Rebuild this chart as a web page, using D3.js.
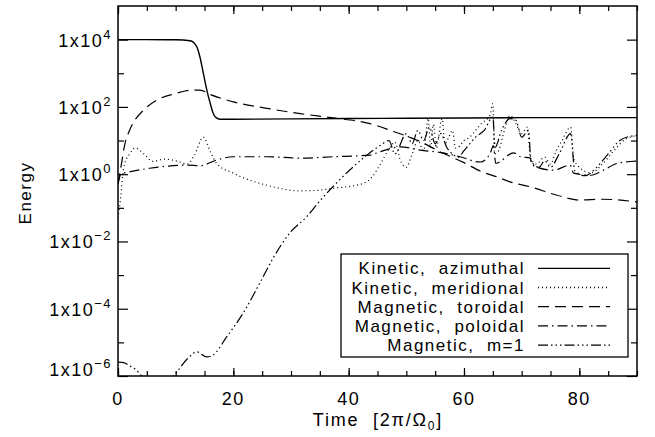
<!DOCTYPE html>
<html>
<head>
<meta charset="utf-8">
<script src="https://cdn.jsdelivr.net/npm/d3@7"></script>
<style>
  body { margin: 0; background: #fff; }
  text { font-family: "Liberation Sans", Arial, sans-serif; fill: #000; }
</style>
</head>
<body>
<svg id="chart" width="655" height="437"></svg>
<script>
// time in units of 2pi/Omega0, energies
var azimuthalT = [0, 5, 10, 12.5, 13.65, 14.2, 14.8, 15.4, 16, 16.5, 17, 17.7, 20, 30, 40, 50, 60, 70, 80, 90];
var azimuthalE = [10000, 10000, 9900, 9300, 6200, 3100, 1000, 316, 126, 65, 48, 43, 43, 44, 45, 46, 47, 48, 48, 48];

var meridionalT = [0, 0.4, 1, 2, 3, 4.5, 6, 8, 10, 12, 13.2, 14.8, 16, 17.1, 20, 25.8, 31.6, 34.5, 37.3, 42, 44, 45.5, 47, 48, 49, 50, 51, 52, 53, 53.8, 54.2, 54.7, 55.2, 56.2, 56.7, 57.3, 58, 58.5, 59, 60, 61, 62, 63, 64.5, 65, 65.3, 66, 67, 68, 69, 70, 71, 71.5, 72.5, 74, 75, 76, 77, 78.5, 79, 80, 82, 84, 86, 88, 90];
var meridionalE = [0.05, 0.16, 1.6, 4, 6, 4, 2.4, 2.8, 2.5, 2, 3.5, 12.6, 4.7, 2.1, 1.07, 0.47, 0.32, 0.33, 0.38, 0.5, 0.8, 2, 5.6, 9, 2.5, 1.6, 4, 10, 5, 45, 6, 30, 6, 45, 8, 12, 20, 6, 6.3, 10, 12.6, 20, 32, 56, 126, 4, 5, 20, 56, 32, 16, 25, 3.2, 2, 3.2, 2, 5, 10, 25, 3.2, 1.6, 1.1, 2, 5, 11, 14];

var toroidalT = [0, 0.5, 1.2, 2, 2.7, 4.4, 6.7, 9.6, 13, 14.2, 16, 20, 25.8, 31.6, 37.3, 43.7, 48, 52, 56, 60, 63, 66, 68, 71.5, 76, 80, 84, 90];
var toroidalE = [0.5, 1.6, 8, 20, 35, 79, 158, 240, 316, 316, 234, 141, 91, 63, 47, 32, 18, 10, 4.5, 2.2, 1.2, 0.8, 0.59, 0.42, 0.24, 0.17, 0.18, 0.15];

var poloidalT = [0, 0.5, 2, 5.5, 12, 14.2, 17, 20, 25.8, 31.6, 37.3, 43.7, 45.5, 49, 52.4, 56.4, 59.3, 62.8, 64.5, 65.1, 65.5, 68.6, 69.8, 71.5, 71.8, 75.5, 78.4, 79, 82, 84.2, 86.6, 90];
var poloidalE = [0.5, 1.0, 1.17, 1.5, 1.86, 1.78, 2.6, 3.3, 3.3, 3.0, 3.3, 3.7, 4.7, 6.5, 5.2, 4.3, 3.3, 2.3, 4.0, 7.1, 2.1, 4.3, 3.3, 3.0, 1.86, 1.32, 1.86, 1.07, 0.93, 1.32, 2.1, 2.45];

var m1T = [0, 1, 2, 3, 4.1, 7, 9.6, 12, 13.7, 15.4, 16.3, 18.9, 21.7, 24.6, 26.9, 29.8, 32.7, 35, 37.3, 40.8, 43, 45.5, 47, 48, 50, 51, 52, 53, 54, 55, 56, 57, 58, 59, 60, 61, 62, 63.5, 65, 65.4, 66.5, 68, 69, 70, 71.2, 71.6, 73, 74, 75, 76.5, 78.5, 79.2, 81, 83, 85, 87, 88.5, 90];
var m1E = [2.6e-6, 2.5e-6, 2e-6, 1.6e-6, 1e-6, 5e-7, 1e-6, 3.2e-6, 5.2e-6, 3.7e-6, 4e-6, 1.5e-5, 7.4e-5, 5.8e-4, 3.2e-3, 0.018, 0.054, 0.16, 0.43, 1.66, 3.5, 7.2, 10, 4, 16, 8, 20, 10, 25, 8, 16, 6.3, 4, 3.2, 5, 8, 12.6, 20, 50, 6.3, 20, 45, 40, 12.6, 20, 2.5, 1.6, 2.5, 1.6, 4, 16, 1.26, 0.9, 1.6, 4, 10, 13, 14];

var seriesNames = ["Kinetic, azimuthal", "Kinetic, meridional", "Magnetic, toroidal", "Magnetic, poloidal", "Magnetic, m=1"];
var seriesDash = ["none", "1,3", "11,6", "10,4,1.5,4", "10,3,1.5,3,1.5,3,1.5,3"];
var xTicks = [0, 20, 40, 60, 80];
var yExponents = [-6, -4, -2, 0, 2, 4];

var svg = d3.select("#chart");
var pL = 118, pR = 637, pT = 6, pB = 376;

var x = d3.scaleLinear().domain([0, 90]).range([pL, pR]);
var y = d3.scaleLog().domain([1e-6, 1e5]).range([pB, pT]);

svg.append("defs").append("clipPath").attr("id", "clip")
  .append("rect")
  .attr("x", pL).attr("y", pT)
  .attr("width", pR - pL).attr("height", pB - pT);

function zip(t, e) {
  return t.map(function (d, i) { return { t: d, e: e[i] }; });
}
var series = [zip(azimuthalT, azimuthalE), zip(meridionalT, meridionalE), zip(toroidalT, toroidalE),
              zip(poloidalT, poloidalE), zip(m1T, m1E)];

var line = d3.line()
  .x(function (d) { return x(d.t); })
  .y(function (d) { return y(d.e); })
  .curve(d3.curveMonotoneX);

var plot = svg.append("g").attr("clip-path", "url(#clip)");
series.forEach(function (s, i) {
  plot.append("path")
    .datum(s)
    .attr("d", line)
    .attr("fill", "none")
    .attr("stroke", "#000")
    .attr("stroke-width", i === 0 ? 1.4 : 1.2)
    .attr("stroke-dasharray", seriesDash[i]);
});

// axes: ticks on all four sides
var minorX = d3.range(0, 91, 5);
var majorY = yExponents.map(function (p) { return Math.pow(10, p); });
var minorY = [-5, -3, -1, 1, 3].map(function (p) { return Math.pow(10, p); });

function tickAxis(axisFn, scale, vals, len, tr) {
  svg.append("g")
    .attr("transform", tr)
    .call(axisFn(scale).tickValues(vals).tickSizeInner(len).tickSizeOuter(0).tickFormat(""))
    .call(function (g) {
      g.select(".domain").remove();
      g.selectAll("line").attr("stroke", "#000").attr("stroke-width", 1.2);
    });
}
// bottom / top (ticks pointing inward)
tickAxis(d3.axisTop, x, minorX, 5, "translate(0," + pB + ")");
tickAxis(d3.axisTop, x, xTicks, 8, "translate(0," + pB + ")");
tickAxis(d3.axisBottom, x, minorX, 5, "translate(0," + pT + ")");
tickAxis(d3.axisBottom, x, xTicks, 8, "translate(0," + pT + ")");
// left / right
tickAxis(d3.axisRight, y, minorY, 6, "translate(" + pL + ",0)");
tickAxis(d3.axisRight, y, majorY, 10, "translate(" + pL + ",0)");
tickAxis(d3.axisLeft, y, minorY, 6, "translate(" + pR + ",0)");
tickAxis(d3.axisLeft, y, majorY, 10, "translate(" + pR + ",0)");

svg.append("rect")
  .attr("x", pL).attr("y", pT)
  .attr("width", pR - pL).attr("height", pB - pT)
  .attr("fill", "none").attr("stroke", "#000").attr("stroke-width", 1.5);

// tick labels
svg.selectAll(".xlab").data(xTicks).enter().append("text")
  .attr("x", function (d) { return x(d); })
  .attr("y", 405)
  .attr("text-anchor", "middle")
  .style("font-size", "18px")
  .style("letter-spacing", "1.5px")
  .text(function (d) { return d; });

yExponents.forEach(function (p) {
  var yy = y(Math.pow(10, p));
  if (p === -6) yy = yy - 7;
  var t = svg.append("text")
    .attr("x", 112)
    .attr("y", yy + 7)
    .attr("text-anchor", "end")
    .style("font-size", "18px")
    .style("letter-spacing", "1.5px");
  t.append("tspan").text("1x10");
  t.append("tspan").attr("dy", -8).style("font-size", "13px")
    .text(p < 0 ? "\u2212" + (-p) : String(p));
});

// axis titles
svg.append("text")
  .attr("transform", "translate(31,193) rotate(-90)")
  .attr("text-anchor", "middle")
  .style("font-size", "17px")
  .style("letter-spacing", "1.5px")
  .text("Energy");

var xt = svg.append("text")
  .attr("x", 378).attr("y", 426)
  .attr("text-anchor", "middle")
  .style("font-size", "18px")
  .style("letter-spacing", "1.8px")
  .attr("xml:space", "preserve");
xt.append("tspan").text("Time  [2\u03c0/\u03a9");
xt.append("tspan").attr("dy", 4).style("font-size", "12px").text("0");
xt.append("tspan").attr("dy", -4).text("]");

// legend
var lg = svg.append("g");
lg.append("rect")
  .attr("x", 341).attr("y", 254)
  .attr("width", 287).attr("height", 103)
  .attr("fill", "#fff").attr("stroke", "#000").attr("stroke-width", 1.3);
seriesNames.forEach(function (name, i) {
  var yy = 268.3 + i * 19.2;
  lg.append("text")
    .attr("x", 525).attr("y", yy + 6)
    .attr("text-anchor", "end")
    .style("font-size", "17px")
    .style("letter-spacing", "1.5px")
    .attr("xml:space", "preserve")
    .text(name.replace(", ", ",  "));
  lg.append("line")
    .attr("x1", 538).attr("x2", 610)
    .attr("y1", yy).attr("y2", yy)
    .attr("stroke", "#000").attr("stroke-width", 1.3)
    .attr("stroke-dasharray", seriesDash[i]);
});
</script>
</body>
</html>
